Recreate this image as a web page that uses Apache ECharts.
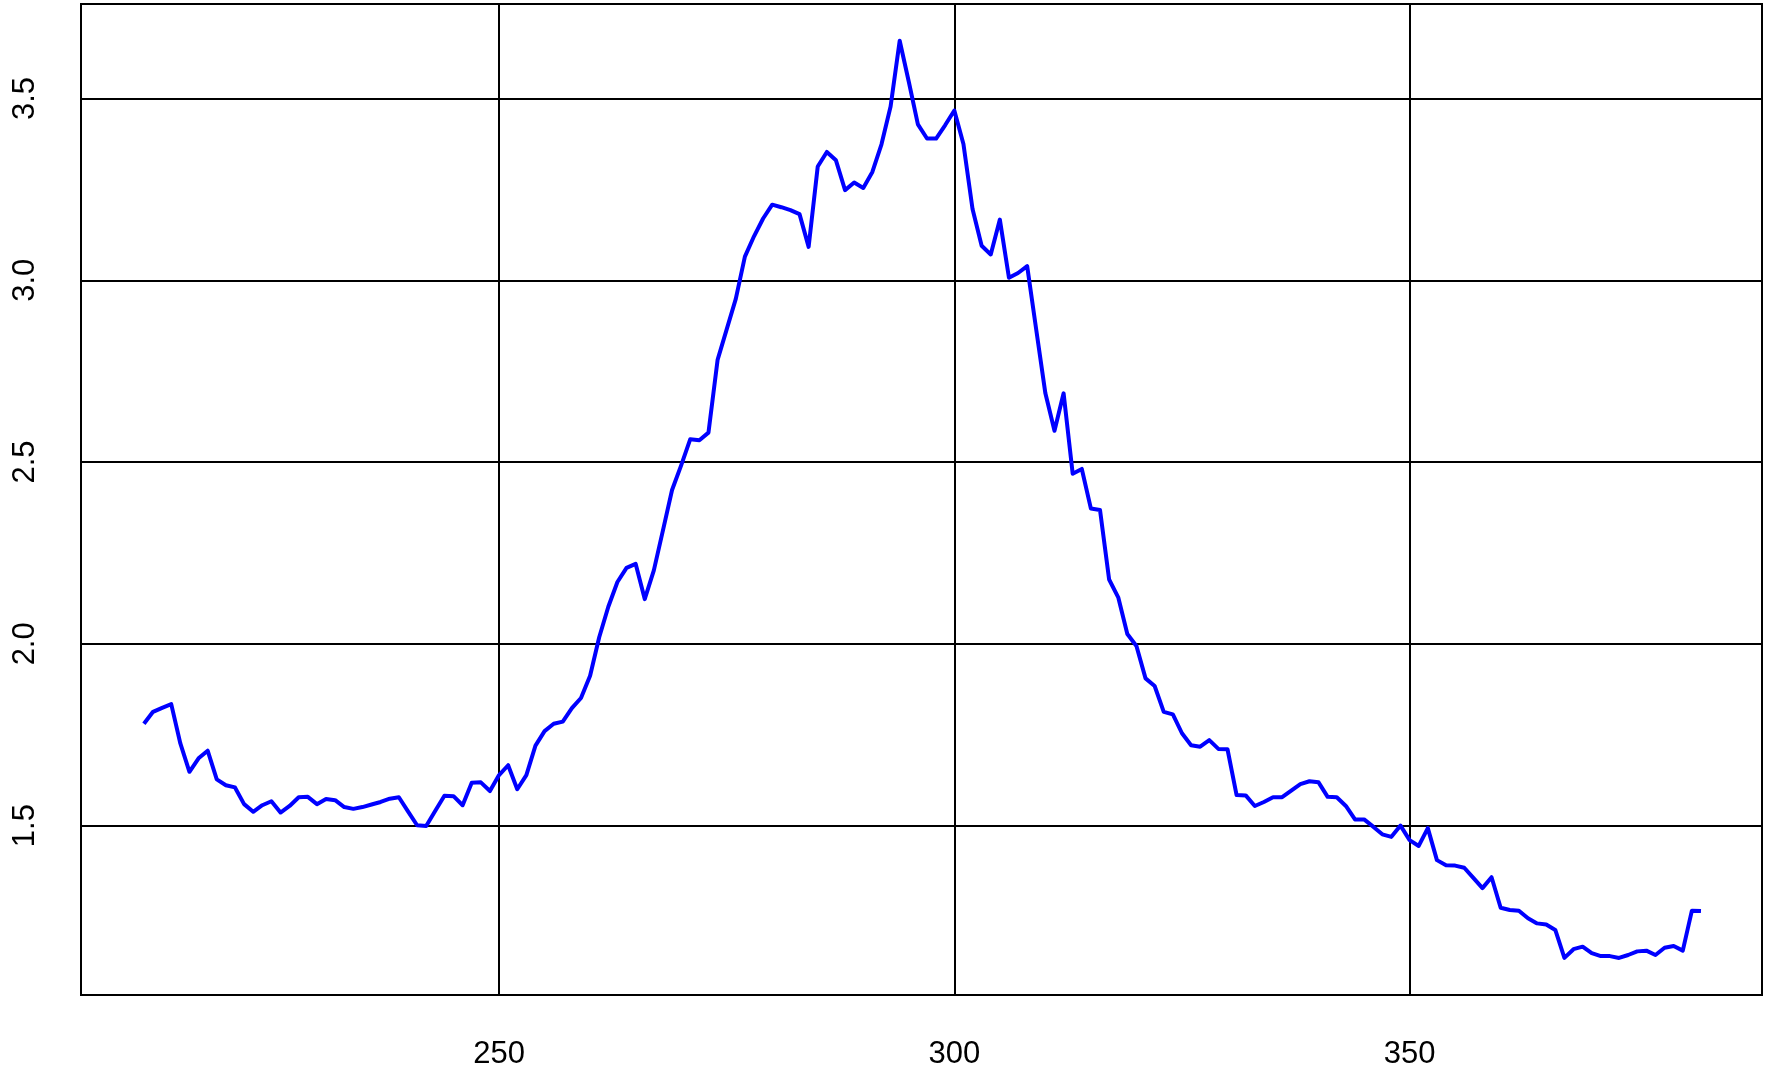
<!DOCTYPE html>
<html>
<head>
<meta charset="utf-8">
<script src="https://cdn.jsdelivr.net/npm/echarts@6/dist/echarts.min.js"></script>
<style>
  html, body { margin: 0; padding: 0; background: #fff; }
  #chart { width: 1773px; height: 1070px; }
</style>
</head>
<body>
<div id="chart"></div>
<script>
// x positions (one reading per unit)
const xValues = [
  211, 212, 213, 214, 215, 216, 217, 218, 219, 220,
  221, 222, 223, 224, 225, 226, 227, 228, 229, 230,
  231, 232, 233, 234, 235, 236, 237, 238, 239, 240,
  241, 242, 243, 244, 245, 246, 247, 248, 249, 250,
  251, 252, 253, 254, 255, 256, 257, 258, 259, 260,
  261, 262, 263, 264, 265, 266, 267, 268, 269, 270,
  271, 272, 273, 274, 275, 276, 277, 278, 279, 280,
  281, 282, 283, 284, 285, 286, 287, 288, 289, 290,
  291, 292, 293, 294, 295, 296, 297, 298, 299, 300,
  301, 302, 303, 304, 305, 306, 307, 308, 309, 310,
  311, 312, 313, 314, 315, 316, 317, 318, 319, 320,
  321, 322, 323, 324, 325, 326, 327, 328, 329, 330,
  331, 332, 333, 334, 335, 336, 337, 338, 339, 340,
  341, 342, 343, 344, 345, 346, 347, 348, 349, 350,
  351, 352, 353, 354, 355, 356, 357, 358, 359, 360,
  361, 362, 363, 364, 365, 366, 367, 368, 369, 370,
  371, 372, 373, 374, 375, 376, 377, 378, 379, 380,
  381, 382
]

const yValues = [
  1.780, 1.813, 1.824, 1.834, 1.726, 1.648, 1.685, 1.706, 1.627, 1.611,
  1.605, 1.559, 1.538, 1.556, 1.567, 1.536, 1.554, 1.578, 1.579, 1.559,
  1.573, 1.570, 1.551, 1.546, 1.551, 1.558, 1.565, 1.574, 1.578, 1.539,
  1.501, 1.499, 1.541, 1.582, 1.581, 1.556, 1.618, 1.619, 1.595, 1.639,
  1.666, 1.600, 1.639, 1.720, 1.760, 1.780, 1.786, 1.823, 1.851, 1.912,
  2.018, 2.102, 2.170, 2.209, 2.220, 2.123, 2.202, 2.312, 2.423, 2.491,
  2.563, 2.560, 2.581, 2.781, 2.865, 2.949, 3.065, 3.121, 3.170, 3.208,
  3.201, 3.193, 3.182, 3.092, 3.313, 3.353, 3.330, 3.248, 3.269, 3.254,
  3.298, 3.374, 3.478, 3.659, 3.546, 3.429, 3.390, 3.390, 3.427, 3.467,
  3.375, 3.196, 3.095, 3.071, 3.167, 3.007, 3.020, 3.039, 2.863, 2.689,
  2.586, 2.689, 2.468, 2.481, 2.372, 2.368, 2.177, 2.128, 2.027, 1.994,
  1.905, 1.884, 1.813, 1.806, 1.754, 1.721, 1.717, 1.735, 1.711, 1.710,
  1.584, 1.583, 1.554, 1.565, 1.578, 1.578, 1.596, 1.614, 1.622, 1.619,
  1.579, 1.578, 1.554, 1.517, 1.517, 1.497, 1.476, 1.469, 1.500, 1.460,
  1.444, 1.493, 1.405, 1.391, 1.390, 1.384, 1.356, 1.328, 1.358, 1.274,
  1.268, 1.266, 1.245, 1.231, 1.228, 1.213, 1.136, 1.160, 1.167, 1.149,
  1.141, 1.141, 1.136, 1.144, 1.154, 1.156, 1.144, 1.164, 1.169, 1.156,
  1.266, 1.265
]

const xTicks = [250, 300, 350]
const yTicks = [1.5, 2.0, 2.5, 3.0, 3.5]

const chart = echarts.init(document.getElementById('chart'))

const labelStyle = {
  color: '#000',
  fontFamily: '"Liberation Sans", Arial, sans-serif',
  fontSize: 31,
}

chart.setOption({
  animation: false,
  grid: {
    left: 81, right: 11, top: 4, bottom: 75,
    show: true,
    borderColor: '#000',
    borderWidth: 2,
    outerBoundsMode: 'none',
  },
  xAxis: {
    type: 'value',
    min: 204.09,
    max: 388.7,
    axisLine: { show: false },
    axisTick: { show: false, customValues: xTicks },
    axisLabel: { ...labelStyle, margin: 44, customValues: xTicks },
    splitLine: { show: true, lineStyle: { color: '#000', width: 2 } },
  },
  yAxis: {
    type: 'value',
    min: 1.034,
    max: 3.76,
    axisLine: { show: false },
    axisTick: { show: false, customValues: yTicks },
    axisLabel: {
      ...labelStyle,
      margin: 40,
      rotate: 90,
      customValues: yTicks,
      formatter: (v) => v.toFixed(1),
    },
    splitLine: { show: true, lineStyle: { color: '#000', width: 2 } },
  },
  series: [{
    type: 'line',
    data: xValues.map((x, i) => [x, yValues[i]]),
    showSymbol: false,
    lineStyle: { color: '#0000ff', width: 4, join: 'round' },
    z: 3,
  }],
})
</script>
</body>
</html>
